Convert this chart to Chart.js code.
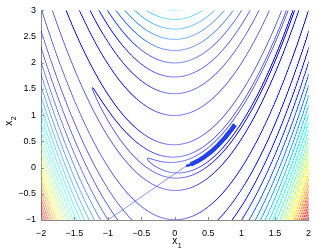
<!DOCTYPE html>
<html><head><meta charset="utf-8">
<script src="https://cdn.jsdelivr.net/npm/chart.js@4/dist/chart.umd.min.js"></script>
<style>html,body{margin:0;padding:0;background:#fff;overflow:hidden}#wrap{width:319px;height:252px;position:relative}</style>
</head><body><div id="wrap"><canvas id="c" width="319" height="252"></canvas></div>
<script>
// ---- data ----
const xTicks = [-2, -1.5, -1, -0.5, 0, 0.5, 1, 1.5, 2];
const yTicks = [-1, -0.5, 0, 0.5, 1, 1.5, 2, 2.5, 3];
// contour levels of the Rosenbrock function f = 100(x2 - x1^2)^2 + (1 - x1)^2
const smallLevels = [2, 5, 20];
const bigLevels = [100, 200, 300, 400, 500, 600, 700, 800, 900, 1000, 1100, 1200, 1300,
  1400, 1500, 1600, 1700, 1800, 1900, 2000, 2100, 2200, 2300, 2400, 2500];
const pathX = [-1, 0.17];          // first long step of the descent path
const pathY = [-1, 0.03];
const bandStartX = [0.17, 0.21, 0.26];                 // thin start of the zig-zag band
const bandStartY = [0.03, 0.045, 0.07];
const bandX = [0.24, 0.35, 0.45, 0.55, 0.65, 0.75, 0.85, 0.9];   // zig-zag band along the valley
const bandY = [0.06, 0.13, 0.21, 0.31, 0.43, 0.57, 0.73, 0.82];

const levels = smallLevels.concat(bigLevels);
const LMAX = 2550;

// jet-like map; the low end stays a bright blue as in the picture
function jet(t) {
  const c = v => Math.max(0, Math.min(1, v));
  const r = c(Math.min(4 * t - 1.5, -4 * t + 4.5));
  const g = c(Math.min(4 * t - 0.5, -4 * t + 3.5));
  const b = c(Math.min(Math.max(4 * t + 0.5, 0.92), -4 * t + 2.5));
  return `rgb(${Math.round(r * 255)},${Math.round(g * 255)},${Math.round(b * 255)})`;
}

// level set of f at value L: (1-x1)^2 + (10(x2-x1^2))^2 = L
function contourRuns(L) {
  const s = Math.sqrt(L), N = 40000, pts = [];
  for (let i = 0; i < N; i++) {
    const th = 2 * Math.PI * i / N;
    const x1 = 1 - s * Math.cos(th);
    const x2 = x1 * x1 + s * Math.sin(th) / 10;
    pts.push({ x: x1, y: x2, in: x1 >= -2.03 && x1 <= 2.03 && x2 >= -1.05 && x2 <= 3.05 });
  }
  let i0 = pts.findIndex(p => !p.in);
  const runs = [];
  if (i0 < 0) { const r = pts.map(p => ({ x: p.x, y: p.y })); r.push({ x: pts[0].x, y: pts[0].y }); runs.push(r); return runs; }
  let cur = null;
  for (let k = 0; k <= N; k++) {
    const i = (i0 + k) % N, p = pts[i];
    if (p.in) {
      if (!cur) { const q = pts[(i - 1 + N) % N]; cur = [{ x: q.x, y: q.y }]; }
      cur.push({ x: p.x, y: p.y });
    } else if (cur) { cur.push({ x: p.x, y: p.y }); runs.push(cur); cur = null; }
  }
  return runs.map(r => {
    const out = [r[0]];
    for (let j = 1; j < r.length - 1; j++) {
      const a = out[out.length - 1], b = r[j];
      if (Math.abs((b.x - a.x) * 68) + Math.abs((b.y - a.y) * 53) > 0.4) out.push(b);
    }
    out.push(r[r.length - 1]);
    return out;
  });
}

const datasets = [];
datasets.push({ data: bandX.map((x, i) => ({ x, y: bandY[i] })), borderColor: 'rgb(35,65,235)', borderWidth: 4.5, order: 0 });
datasets.push({ data: bandStartX.map((x, i) => ({ x, y: bandStartY[i] })), borderColor: 'rgb(35,65,235)', borderWidth: 2.5, order: 0 });
datasets.push({ data: pathX.map((x, i) => ({ x, y: pathY[i] })), borderColor: 'rgb(60,80,240)', borderWidth: 0.6, order: 0 });
levels.forEach(L => {
  const col = jet(L / LMAX);
  contourRuns(L).forEach(run => datasets.push({ data: run, borderColor: col, borderWidth: 0.55, order: 1 }));
});
datasets.forEach(d => Object.assign(d, { showLine: true, pointRadius: 0, fill: false, tension: 0, clip: 0, borderCapStyle: 'butt', borderJoinStyle: 'round' }));

const fmt = v => (v < 0 ? '\u2212' : '') + Math.abs(v);
const FONT = '"Liberation Sans", Arial, sans-serif';

const deco = {
  id: 'deco',
  afterDraw(chart) {
    const ctx = chart.ctx, xs = chart.scales.x, ys = chart.scales.y, a = chart.chartArea;
    ctx.save();
    ctx.strokeStyle = '#8c8c8c'; ctx.lineWidth = 1;
    ctx.beginPath();
    xTicks.forEach(v => { const px = Math.round(xs.getPixelForValue(v)) + 0.5; ctx.moveTo(px, a.bottom); ctx.lineTo(px, a.bottom - 3); });
    yTicks.forEach(v => { const py = Math.round(ys.getPixelForValue(v)) + 0.5; ctx.moveTo(a.left, py); ctx.lineTo(a.left + 3, py); });
    ctx.stroke();
    ctx.fillStyle = '#000';
    ctx.textAlign = 'center'; ctx.textBaseline = 'alphabetic';
    const cx = (a.left + a.right) / 2;
    ctx.font = '10px ' + FONT; ctx.fillText('x', cx, 244);
    ctx.font = '7px ' + FONT; ctx.fillText('1', cx + 5, 248);
    ctx.translate(12, (a.top + a.bottom) / 2 + 8);
    ctx.rotate(-Math.PI / 2);
    ctx.font = '10px ' + FONT; ctx.fillText('x', 0, 0);
    ctx.font = '7px ' + FONT; ctx.fillText('2', 5, 4);
    ctx.restore();
  }
};

new Chart(document.getElementById('c'), {
  type: 'scatter',
  data: { datasets },
  options: {
    responsive: false, animation: false, devicePixelRatio: 1,
    events: [],
    layout: { padding: { left: 0, right: 6, top: 8, bottom: 0 } },
    plugins: { legend: { display: false }, tooltip: { enabled: false } },
    scales: {
      x: {
        type: 'linear', min: -2, max: 2,
        afterBuildTicks: s => { s.ticks = xTicks.map(v => ({ value: v })); },
        afterFit: s => { s.height = 32; },
        grid: { display: false, drawTicks: false },
        border: { display: true, color: '#8c8c8c', width: 1 },
        ticks: { callback: fmt, color: '#000', font: { size: 9, family: FONT }, padding: 8, maxRotation: 0, autoSkip: false }
      },
      y: {
        type: 'linear', min: -1, max: 3,
        afterBuildTicks: s => { s.ticks = yTicks.map(v => ({ value: v })); },
        afterFit: s => { s.width = 41; },
        grid: { display: false, drawTicks: false },
        border: { display: true, color: '#8c8c8c', width: 1 },
        ticks: { callback: fmt, color: '#000', font: { size: 9, family: FONT }, padding: 5, autoSkip: false }
      }
    }
  },
  plugins: [deco]
});
</script>
</body></html>
